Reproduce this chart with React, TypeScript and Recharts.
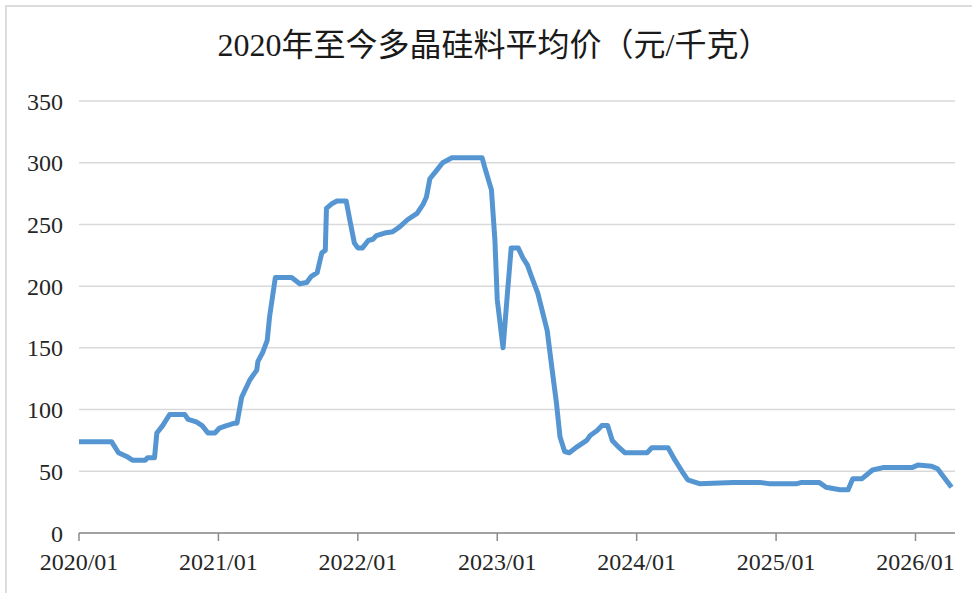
import { CartesianGrid, Line, LineChart, XAxis, YAxis } from 'recharts';

// months since 2020/01 and the price read at that point (元/千克)
const months = [
  0, 2.8, 3.4, 4.1, 4.6, 5.7, 5.9, 6.5, 6.7, 7.2,
  7.8, 9.1, 9.4, 10.1, 10.6, 11.1, 11.7, 12.1, 12.7, 13.4,
  13.6, 14.0, 14.7, 15.3, 15.4, 15.8, 16.2, 16.4, 16.9, 18.3,
  19.0, 19.6, 20.0, 20.5, 20.9, 21.2, 21.3, 21.8, 22.2, 23.0,
  23.3, 23.7, 24.0, 24.4, 24.9, 25.3, 25.6, 26.3, 27.0, 27.6,
  28.3, 29.1, 29.6, 29.9, 30.2, 30.8, 31.3, 32.1, 34.7, 34.9,
  35.5, 35.8, 36.0, 36.5, 36.9, 37.2, 37.8, 38.2, 38.6, 38.9,
  39.5, 40.3, 40.7, 41.1, 41.4, 41.8, 42.2, 42.9, 43.7, 44.0,
  44.6, 45.0, 45.5, 45.9, 46.4, 47.0, 48.9, 49.3, 50.7, 51.3,
  51.9, 52.4, 53.4, 56.3, 58.6, 59.4, 61.8, 62.2, 63.7, 64.3,
  65.5, 66.2, 66.6, 67.4, 68.3, 69.2, 71.7, 72.2, 73.4, 73.9,
  74.3, 75.1,
];

const prices = [
  74, 74, 65, 62, 59, 59, 61, 61, 81, 87,
  96, 96, 92, 90, 87, 81, 81, 85, 87, 89,
  89, 110, 124, 132, 139, 146, 156, 175, 207, 207,
  202, 203, 208, 211, 227, 229, 263, 267, 269, 269,
  254, 235, 231, 231, 237, 238, 241, 243, 244, 248,
  254, 259, 266, 272, 287, 294, 300, 304, 304, 297,
  278, 237, 189, 150, 197, 231, 231, 223, 217, 209,
  194, 164, 134, 105, 78, 66, 65, 70, 75, 79,
  83, 87, 87, 75, 70, 65, 65, 69, 69, 59,
  50, 43, 40, 41, 41, 40, 40, 41, 41, 37,
  35, 35, 44, 44, 51, 53, 53, 55, 54, 52,
  47, 37,
];

const tickMonths = [0, 12, 24, 36, 48, 60, 72];
const tickLabels = ['2020/01', '2021/01', '2022/01', '2023/01', '2024/01', '2025/01', '2026/01'];
const yTicks = [0, 50, 100, 150, 200, 250, 300, 350];

const title = '2020年至今多晶硅料平均价（元/千克）';

const data = months.map((m, i) => ({ m, price: prices[i] }));

const font = "'Liberation Serif', 'Noto Sans CJK SC', serif";

export default function App() {
  return (
    <div style={{ position: 'absolute', left: 0, top: 0, width: 972, height: 593, background: '#fff', overflow: 'hidden' }}>
      {/* frame, cropped on the right and bottom */}
      <div style={{ position: 'absolute', left: 5, top: 5, width: 1000, height: 700, border: '2px solid #dcdcdc' }} />
      <div
        style={{
          position: 'absolute', left: 8, top: 26, width: 972, textAlign: 'center',
          fontFamily: font, fontSize: 32, lineHeight: '38px', color: '#1a1a1a',
        }}
      >
        {title}
      </div>
      <div style={{ position: 'absolute', left: 0, top: 0 }}>
        <LineChart width={972} height={593} data={data} margin={{ top: 101, right: 17, bottom: 0, left: 19 }}>
          <CartesianGrid horizontal vertical={false} stroke="#d9d9d9" strokeWidth={1.5} />
          <XAxis
            type="number"
            dataKey="m"
            domain={[0, 75.4]}
            ticks={tickMonths}
            tickFormatter={(v: number) => tickLabels[tickMonths.indexOf(v)]}
            height={60}
            stroke="#8c8c8c"
            strokeWidth={1.5}
            tickSize={8}
            tickMargin={12}
            tick={{ fill: '#262626', fontSize: 24, fontFamily: font }}
            interval={0}
          />
          <YAxis
            type="number"
            domain={[0, 350]}
            ticks={yTicks}
            width={60}
            axisLine={false}
            tickLine={false}
            tickSize={0}
            tickMargin={16}
            tick={{ fill: '#262626', fontSize: 24, fontFamily: font }}
            interval={0}
          />
          <Line
            type="linear"
            dataKey="price"
            stroke="#5596d2"
            strokeWidth={5}
            strokeLinejoin="round"
            dot={false}
            activeDot={false}
            isAnimationActive={false}
          />
        </LineChart>
      </div>
    </div>
  );
}
